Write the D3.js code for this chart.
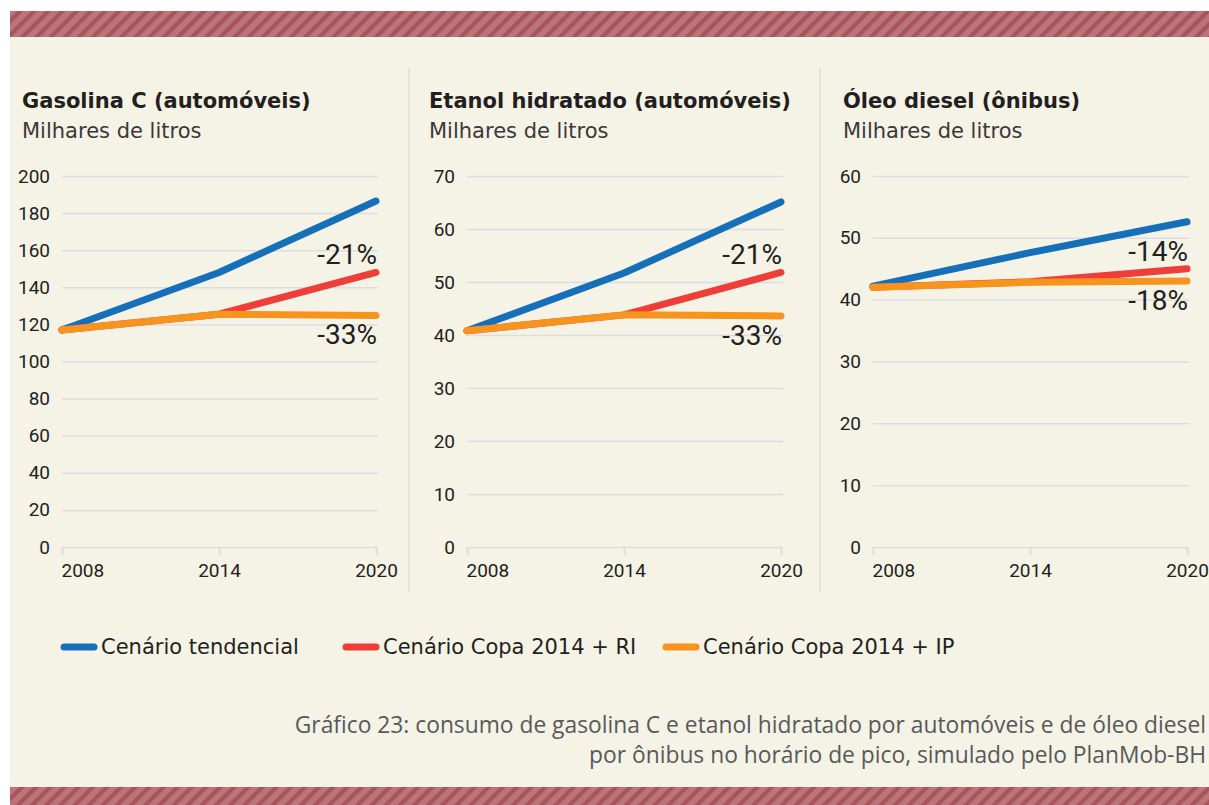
<!DOCTYPE html>
<html>
<head>
<meta charset="utf-8">
<script src="https://cdn.jsdelivr.net/npm/d3@7"></script>
<style>
  body { margin: 0; background: #ffffff; }
  svg { display: block; }
</style>
</head>
<body>
<div id="chart"></div>
<script>
// data
var years = [2008, 2014, 2020];

var seriesNames = ["Cenário tendencial", "Cenário Copa 2014 + RI", "Cenário Copa 2014 + IP"];
var seriesColors = ["#1570b9", "#ef3d37", "#f7941e"];

var panelTitles = ["Gasolina C (automóveis)", "Etanol hidratado (automóveis)", "Óleo diesel (ônibus)"];
var panelUnit = "Milhares de litros";

var gasolinaTendencial = [117, 148, 186.5];
var gasolinaRI = [117, 125.5, 148];
var gasolinaIP = [117, 125.5, 124.8];

var etanolTendencial = [40.8, 51.7, 65.1];
var etanolRI = [40.8, 43.8, 51.8];
var etanolIP = [40.8, 43.8, 43.6];

var dieselTendencial = [42.2, 47.6, 52.6];
var dieselRI = [42.0, 42.9, 45.0];
var dieselIP = [42.0, 42.8, 43.0];

var gasolinaTicks = [0, 20, 40, 60, 80, 100, 120, 140, 160, 180, 200];
var etanolTicks = [0, 10, 20, 30, 40, 50, 60, 70];
var dieselTicks = [0, 10, 20, 30, 40, 50, 60];

var gasolinaLabels = ["-21%", "-33%"];
var etanolLabels = ["-21%", "-33%"];
var dieselLabels = ["-14%", "-18%"];

var caption = [
  "Gráfico 23: consumo de gasolina C e etanol hidratado por automóveis e de óleo diesel",
  "por ônibus no horário de pico, simulado pelo PlanMob-BH"
];

var panels = [
  {title: panelTitles[0], series: [gasolinaTendencial, gasolinaRI, gasolinaIP], ticks: gasolinaTicks, labels: gasolinaLabels},
  {title: panelTitles[1], series: [etanolTendencial, etanolRI, etanolIP], ticks: etanolTicks, labels: etanolLabels},
  {title: panelTitles[2], series: [dieselTendencial, dieselRI, dieselIP], ticks: dieselTicks, labels: dieselLabels}
];

var width = 1209, height = 805;
var font = "Roboto, 'DejaVu Sans', sans-serif";
var wideFont = "'DejaVu Sans', sans-serif";
var textColor = "#231f20";
var gridColor = "#dcdde1";

var svg = d3.select("#chart")
  .append("svg")
  .attr("width", width)
  .attr("height", height);

// striped band pattern
var defs = svg.append("defs");
var pattern = defs.append("pattern")
  .attr("id", "stripes")
  .attr("patternUnits", "userSpaceOnUse")
  .attr("width", 10)
  .attr("height", 10)
  .attr("patternTransform", "rotate(45)");
pattern.append("rect")
  .attr("width", 10).attr("height", 10)
  .attr("fill", "#bb7479");
pattern.append("rect")
  .attr("width", 4.2).attr("height", 10)
  .attr("fill", "#a7555b");

// background
svg.append("rect")
  .attr("x", 10).attr("y", 37)
  .attr("width", width - 10).attr("height", 750)
  .attr("fill", "#f5f2e6");
svg.append("rect")
  .attr("x", 10).attr("y", 11)
  .attr("width", width - 10).attr("height", 26)
  .attr("fill", "url(#stripes)");
svg.append("rect")
  .attr("x", 10).attr("y", 787)
  .attr("width", width - 10).attr("height", 18)
  .attr("fill", "url(#stripes)");

// separators between panels
[409, 820].forEach(function (x) {
  svg.append("line")
    .attr("x1", x).attr("x2", x)
    .attr("y1", 68).attr("y2", 593)
    .attr("stroke", "#dedcd4")
    .attr("stroke-width", 1.5);
});

var panelLeft = [22, 429, 843];
var plotX = [[62, 376], [467, 781], [873, 1187]];
var plotTop = 176, plotBottom = 547;

panels.forEach(function (p, i) {
  var g = svg.append("g");

  g.append("text")
    .attr("x", panelLeft[i])
    .attr("y", 108)
    .style("font-family", wideFont)
    .style("font-weight", "bold")
    .style("font-size", "21px")
    .style("fill", textColor)
    .text(p.title);

  g.append("text")
    .attr("x", panelLeft[i])
    .attr("y", 138)
    .style("font-family", wideFont)
    .style("font-size", "21px")
    .style("fill", "#3a3839")
    .text(panelUnit);

  var x = d3.scalePoint()
    .domain(years)
    .range(plotX[i]);

  var y = d3.scaleLinear()
    .domain([0, d3.max(p.ticks)])
    .range([plotBottom, plotTop]);

  // gridlines
  var yAxis = d3.axisLeft(y)
    .tickValues(p.ticks)
    .tickSize(-(plotX[i][1] - plotX[i][0] + 2))
    .tickPadding(12);

  var yg = g.append("g")
    .attr("transform", "translate(" + plotX[i][0] + ",0)")
    .call(yAxis);
  yg.select(".domain").remove();
  yg.selectAll(".tick line")
    .attr("stroke", gridColor)
    .attr("stroke-width", 1.5);
  yg.selectAll(".tick text")
    .style("font-family", font)
    .style("font-size", "19px")
    .style("fill", textColor);

  var xAxis = d3.axisBottom(x)
    .tickSize(8)
    .tickPadding(9);

  var xg = g.append("g")
    .attr("transform", "translate(0," + plotBottom + ")")
    .call(xAxis);
  xg.select(".domain").remove();
  xg.selectAll(".tick line")
    .attr("stroke", gridColor)
    .attr("stroke-width", 2);
  xg.selectAll(".tick text")
    .style("font-family", font)
    .style("font-size", "19px")
    .style("fill", textColor)
    .attr("text-anchor", function (d, j) { return j === 0 ? "start" : "middle"; })
    .attr("x", function (d, j) { return j === 0 ? -1 : 0; });

  var line = d3.line()
    .x(function (d, j) { return x(years[j]); })
    .y(function (d) { return y(d); });

  g.selectAll(".series")
    .data(p.series)
    .enter()
    .append("path")
    .attr("class", "series")
    .attr("d", function (d) { return line(d); })
    .attr("fill", "none")
    .attr("stroke", function (d, j) { return seriesColors[j]; })
    .attr("stroke-width", 7)
    .attr("stroke-linecap", "round")
    .attr("stroke-linejoin", "round");

  // percentage labels near the 2020 end
  var last = years.length - 1;
  g.append("text")
    .attr("x", x(years[last]) + 1)
    .attr("y", y(p.series[1][last]) - 8)
    .attr("text-anchor", "end")
    .style("font-family", font)
    .style("font-size", "28px")
    .style("fill", textColor)
    .text(p.labels[0]);
  g.append("text")
    .attr("x", x(years[last]) + 1)
    .attr("y", y(p.series[2][last]) + 29)
    .attr("text-anchor", "end")
    .style("font-family", font)
    .style("font-size", "28px")
    .style("fill", textColor)
    .text(p.labels[1]);
});

// legend
var legendX = [61, 343, 663];
var legend = svg.append("g");
seriesNames.forEach(function (name, i) {
  legend.append("line")
    .attr("x1", legendX[i] + 3).attr("x2", legendX[i] + 33)
    .attr("y1", 647).attr("y2", 647)
    .attr("stroke", seriesColors[i])
    .attr("stroke-width", 7)
    .attr("stroke-linecap", "round");
  legend.append("text")
    .attr("x", legendX[i] + 40)
    .attr("y", 654)
    .style("font-family", wideFont)
    .style("font-size", "21px")
    .style("fill", textColor)
    .text(name);
});

// caption
svg.selectAll(".caption")
  .data(caption)
  .enter()
  .append("text")
  .attr("class", "caption")
  .attr("x", 1206)
  .attr("y", function (d, i) { return 733 + i * 30; })
  .attr("text-anchor", "end")
  .style("font-family", "'Open Sans', sans-serif")
  .style("font-size", "22.8px")
  .style("fill", "#58595b")
  .text(function (d) { return d; });
</script>
</body>
</html>
